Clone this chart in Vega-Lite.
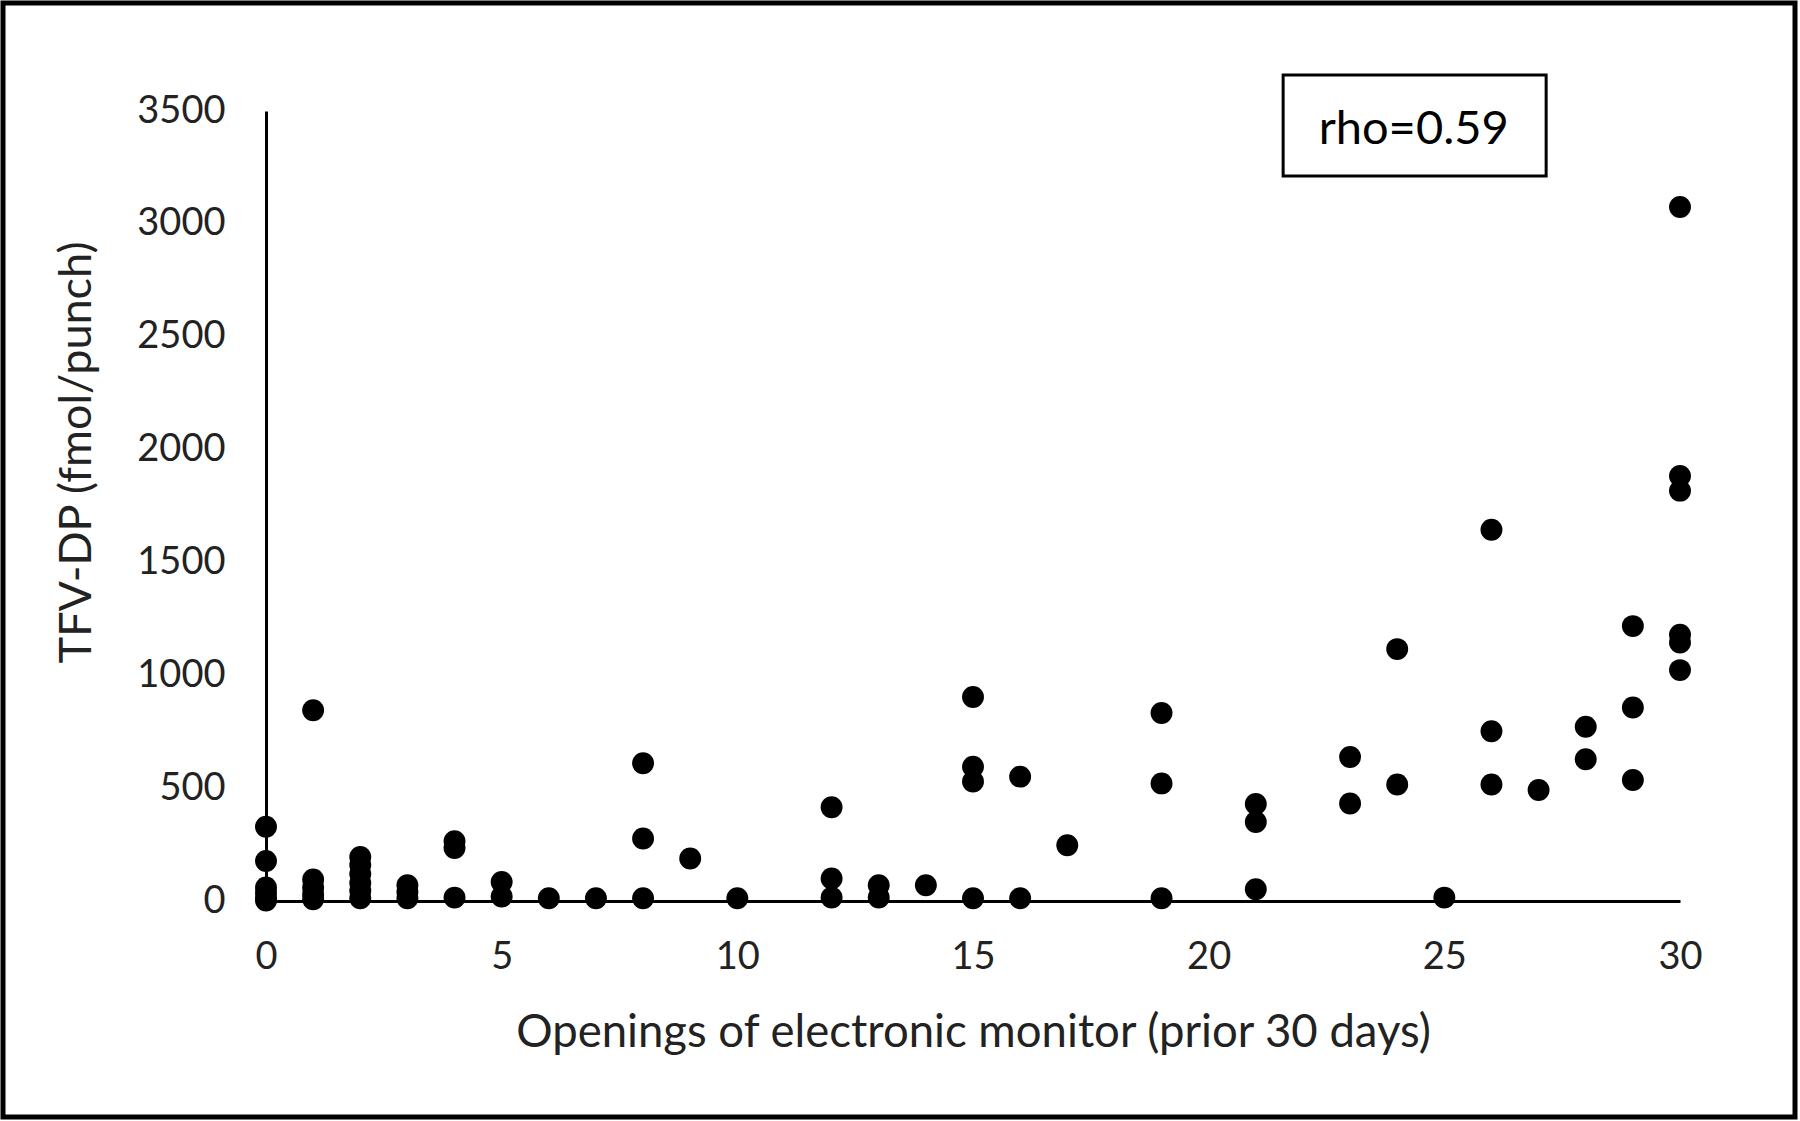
{
  "$schema": "https://vega.github.io/schema/vega-lite/v6.json",
  "width": 1414,
  "height": 790,
  "autosize": {"type": "none"},
  "padding": {"left": 266, "top": 111, "right": 120, "bottom": 220},
  "background": "white",
  "config": {"view": {"stroke": null}, "font": "Lato"},
  "resolve": {"axis": {"x": "independent", "y": "independent"}},
  "data": {"values": [
    {"openings": 0, "tfv": 329}, {"openings": 0, "tfv": 177}, {"openings": 0, "tfv": 60}, {"openings": 0, "tfv": 35}, {"openings": 0, "tfv": 12}, {"openings": 0, "tfv": 2},
    {"openings": 1, "tfv": 845}, {"openings": 1, "tfv": 95}, {"openings": 1, "tfv": 60}, {"openings": 1, "tfv": 30}, {"openings": 1, "tfv": 8},
    {"openings": 2, "tfv": 195}, {"openings": 2, "tfv": 160}, {"openings": 2, "tfv": 120}, {"openings": 2, "tfv": 80}, {"openings": 2, "tfv": 45}, {"openings": 2, "tfv": 12},
    {"openings": 3, "tfv": 70}, {"openings": 3, "tfv": 40}, {"openings": 3, "tfv": 12},
    {"openings": 4, "tfv": 265}, {"openings": 4, "tfv": 235}, {"openings": 4, "tfv": 15},
    {"openings": 5, "tfv": 84}, {"openings": 5, "tfv": 20},
    {"openings": 6, "tfv": 12},
    {"openings": 7, "tfv": 12},
    {"openings": 8, "tfv": 610}, {"openings": 8, "tfv": 277}, {"openings": 8, "tfv": 12},
    {"openings": 9, "tfv": 188},
    {"openings": 10, "tfv": 12},
    {"openings": 12, "tfv": 415}, {"openings": 12, "tfv": 100}, {"openings": 12, "tfv": 15},
    {"openings": 13, "tfv": 70}, {"openings": 13, "tfv": 15},
    {"openings": 14, "tfv": 70},
    {"openings": 15, "tfv": 904}, {"openings": 15, "tfv": 595}, {"openings": 15, "tfv": 529}, {"openings": 15, "tfv": 12},
    {"openings": 16, "tfv": 551}, {"openings": 16, "tfv": 12},
    {"openings": 17, "tfv": 247},
    {"openings": 19, "tfv": 833}, {"openings": 19, "tfv": 521}, {"openings": 19, "tfv": 12},
    {"openings": 21, "tfv": 430}, {"openings": 21, "tfv": 350}, {"openings": 21, "tfv": 52},
    {"openings": 23, "tfv": 638}, {"openings": 23, "tfv": 432},
    {"openings": 24, "tfv": 1116}, {"openings": 24, "tfv": 516},
    {"openings": 25, "tfv": 15},
    {"openings": 26, "tfv": 1645}, {"openings": 26, "tfv": 752}, {"openings": 26, "tfv": 516},
    {"openings": 27, "tfv": 492},
    {"openings": 28, "tfv": 772}, {"openings": 28, "tfv": 628},
    {"openings": 29, "tfv": 1218}, {"openings": 29, "tfv": 857}, {"openings": 29, "tfv": 536},
    {"openings": 30, "tfv": 3075}, {"openings": 30, "tfv": 1883}, {"openings": 30, "tfv": 1818}, {"openings": 30, "tfv": 1180}, {"openings": 30, "tfv": 1145}, {"openings": 30, "tfv": 1023}
  ]},
  "layer": [
    {
      "mark": {"type": "circle", "size": 480, "color": "black", "opacity": 1},
      "encoding": {
        "x": {
          "field": "openings", "type": "quantitative",
          "scale": {"domain": [0, 30], "nice": false, "zero": false},
          "axis": {
            "title": "Openings of electronic monitor (prior 30 days)",
            "values": [0, 5, 10, 15, 20, 25, 30], "format": "d",
            "grid": false, "ticks": false, "tickSize": 0,
            "domainColor": "black", "domainWidth": 3,
            "labelFont": "Lato", "labelFontSize": 38, "labelColor": "#222",
            "labelBaseline": "alphabetic", "labelPadding": 67,
            "labelFlush": false, "labelOverlap": false,
            "titleFont": "Lato", "titleFontSize": 45.5, "titleFontWeight": "normal", "titleColor": "#222",
            "titleX": 707, "titleY": 145, "titleBaseline": "alphabetic", "titleAlign": "center"
          }
        },
        "y": {
          "field": "tfv", "type": "quantitative",
          "scale": {"domain": [0, 3500], "nice": false, "zero": false},
          "axis": {
            "title": "TFV-DP (fmol/punch)",
            "values": [0, 500, 1000, 1500, 2000, 2500, 3000, 3500], "format": "d",
            "grid": false, "ticks": false, "tickSize": 0,
            "domainColor": "black", "domainWidth": 3,
            "labelFont": "Lato", "labelFontSize": 38, "labelColor": "#222",
            "labelPadding": 41, "labelBaseline": "middle",
            "labelFlush": false, "labelOverlap": false,
            "titleFont": "Lato", "titleFontSize": 45, "titleFontWeight": "normal", "titleColor": "#222",
            "titleAngle": -90, "titleX": -176, "titleY": 341, "titleBaseline": "alphabetic", "titleAlign": "center"
          }
        }
      }
    },
    {
      "data": {"values": [{}]},
      "mark": {"type": "rect", "filled": false, "stroke": "black", "strokeWidth": 5},
      "encoding": {
        "x": {"datum": -5.58, "type": "quantitative", "scale": {"domain": [0, 30], "nice": false, "zero": false}, "axis": null},
        "x2": {"datum": 32.44},
        "y": {"datum": 3978, "type": "quantitative", "scale": {"domain": [0, 3500], "nice": false, "zero": false}, "axis": null},
        "y2": {"datum": -957}
      }
    },
    {
      "data": {"values": [{}]},
      "mark": {"type": "rect", "filled": false, "stroke": "black", "strokeWidth": 3},
      "encoding": {
        "x": {"datum": 21.58, "type": "quantitative", "scale": {"domain": [0, 30], "nice": false, "zero": false}, "axis": null},
        "x2": {"datum": 27.16},
        "y": {"datum": 3660, "type": "quantitative", "scale": {"domain": [0, 3500], "nice": false, "zero": false}, "axis": null},
        "y2": {"datum": 3212}
      }
    },
    {
      "data": {"values": [{}]},
      "mark": {"type": "text", "text": "rho=0.59", "font": "Lato", "fontSize": 47, "color": "black", "align": "center", "baseline": "alphabetic"},
      "encoding": {
        "x": {"datum": 24.35, "type": "quantitative", "scale": {"domain": [0, 30], "nice": false, "zero": false}, "axis": null},
        "y": {"datum": 3355, "type": "quantitative", "scale": {"domain": [0, 3500], "nice": false, "zero": false}, "axis": null}
      }
    }
  ]
}
